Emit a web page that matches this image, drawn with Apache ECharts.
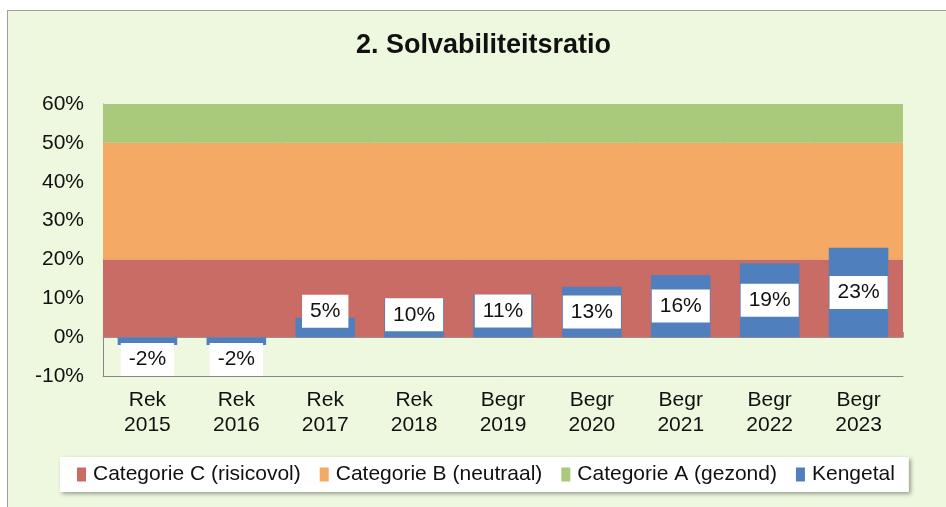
<!DOCTYPE html>
<html>
<head>
<meta charset="utf-8">
<script src="https://cdn.jsdelivr.net/npm/echarts@6/dist/echarts.min.js"></script>
<style>
  html, body { margin: 0; padding: 0; background: #fff; }
  #frame {
    position: absolute; left: 7px; top: 10px; width: 945px; height: 500px;
    background: #eef8df; border: 1px solid #a0a0a0;
  }
  #chart { position: absolute; left: 0; top: 0; width: 946px; height: 507px; }
</style>
</head>
<body>
<div id="frame"></div>
<div id="chart"></div>
<script>
var categories = ['Rek\n2015', 'Rek\n2016', 'Rek\n2017', 'Rek\n2018', 'Begr\n2019', 'Begr\n2020', 'Begr\n2021', 'Begr\n2022', 'Begr\n2023'];
var kengetal = [-2, -2, 5, 10, 11, 13, 16, 19, 23];
var catC = [20, 20, 20, 20, 20, 20, 20, 20, 20];   // 0 - 20%
var catB = [30, 30, 30, 30, 30, 30, 30, 30, 30];   // 20 - 50%
var catA = [10, 10, 10, 10, 10, 10, 10, 10, 10];   // 50 - 60%

var font = '"Liberation Sans", Arial, sans-serif';

var labelBase = {
    show: true,
    formatter: function (p) { return p.value + '%'; },
    color: '#111',
    fontFamily: font,
    fontSize: 21,
    lineHeight: 21,
    backgroundColor: '#fff',
    padding: [6, 8, 6, 8]
};

// label placement roughly like the excel original
var kData = kengetal.map(function (v) {
    var lab;
    if (v < 0) lab = { position: 'bottom', distance: -2 };
    else if (v < 8) lab = { position: 'top', distance: -10 };
    else if (v < 13) lab = { position: 'insideTop', distance: 0 };
    else lab = { position: 'inside' };
    return { value: v, label: lab };
});

// bands slightly wider than a category so neighbouring bars overlap (no seams)
function band(name, data, color) {
    return {
        name: name, type: 'bar', stack: 'band', xAxisIndex: 0,
        barWidth: 91, data: data, z: 1,
        itemStyle: { color: color }
    };
}

var myChart = echarts.init(document.getElementById('chart'));
var option = {
    animation: false,
    title: {
        text: '2. Solvabiliteitsratio',
        left: 356,
        top: 32,
        padding: 0,
        textStyle: { fontFamily: font, fontWeight: 'bold', fontSize: 27, color: '#111' }
    },
    grid: { left: 103, right: 43, top: 104, bottom: 131 },
    legend: {
        bottom: 15,
        left: 60,
        data: ['Categorie C (risicovol)', 'Categorie B (neutraal)', 'Categorie A (gezond)', 'Kengetal'],
        icon: 'rect',
        itemWidth: 9,
        itemHeight: 14,
        itemGap: 19,
        padding: [7, 14, 7, 17],
        backgroundColor: '#fff',
        shadowColor: 'rgba(0,0,0,0.35)',
        shadowBlur: 4,
        shadowOffsetX: 2,
        shadowOffsetY: 2,
        textStyle: { fontFamily: font, fontSize: 21, color: '#111', padding: [0, 0, 0, 2] }
    },
    xAxis: [{
        type: 'category',
        data: categories,
        axisLine: { onZero: false, lineStyle: { color: '#888' } },
        axisTick: { show: false },
        splitLine: { show: false },
        axisLabel: { fontFamily: font, fontSize: 21, color: '#111', lineHeight: 25, margin: 12 }
    }, {
        type: 'category',
        data: categories,
        position: 'bottom',
        axisLine: { onZero: true, lineStyle: { color: '#999' } },
        axisTick: { show: true, inside: true, length: 5, lineStyle: { color: '#999' } },
        splitLine: { show: false },
        axisLabel: { show: false }
    }],
    yAxis: {
        type: 'value',
        min: -10,
        max: 60,
        interval: 10,
        axisLine: { show: true, lineStyle: { color: '#888' } },
        axisTick: { show: false },
        splitLine: { show: true, lineStyle: { color: 'rgba(120,40,30,0.15)' } },
        axisLabel: { formatter: '{value}%', fontFamily: font, fontSize: 21, color: '#111', margin: 19 }
    },
    series: [
        band('Categorie C (risicovol)', catC, '#c96c66'),
        band('Categorie B (neutraal)', catB, '#f4a964'),
        band('Categorie A (gezond)', catA, '#a9c97b'),
        {
            name: 'Kengetal', type: 'bar', xAxisIndex: 1,
            barWidth: '67%', data: kData, itemStyle: { color: '#4f80bd' },
            label: labelBase, z: 3
        }
    ]
};
myChart.setOption(option);
</script>
</body>
</html>
